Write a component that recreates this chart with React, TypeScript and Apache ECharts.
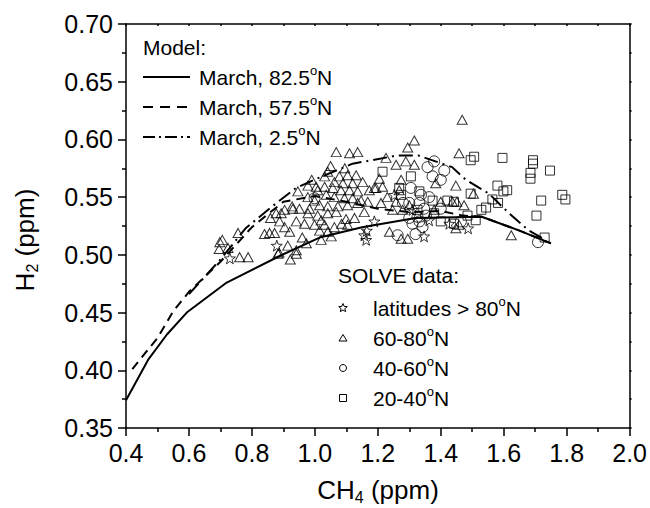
import React, { useEffect, useRef } from "react";
import * as echarts from "echarts";

const FONT = '"Liberation Sans", Arial, Helvetica, sans-serif';

// Model curves [CH4, H2]
const model82 = [
  [0.4, 0.374], [0.47, 0.409], [0.53, 0.431], [0.593, 0.45], [0.72, 0.476], [0.888, 0.499],
  [1.015, 0.515], [1.15, 0.524], [1.32, 0.532], [1.53, 0.533], [1.65, 0.521], [1.75, 0.51],
];
const model57 = [
  [0.42, 0.401], [0.5, 0.428], [0.55, 0.451], [0.6, 0.468], [0.7, 0.494], [0.8, 0.524],
  [0.9, 0.546], [1.0, 0.551], [1.1, 0.546], [1.2, 0.54], [1.3, 0.537], [1.4, 0.538],
  [1.47, 0.534], [1.53, 0.533], [1.65, 0.521], [1.75, 0.51],
];
const model2 = [
  [0.6, 0.466], [0.7, 0.496], [0.78, 0.523], [0.86, 0.541], [0.94, 0.558], [1.015, 0.567],
  [1.12, 0.579], [1.26, 0.586], [1.33, 0.586], [1.436, 0.576], [1.48, 0.565], [1.553, 0.553],
  [1.617, 0.536], [1.68, 0.521], [1.733, 0.513],
];

// SOLVE data
const lat80 = [
  [0.73, 0.497], [0.879, 0.508], [1.157, 0.517], [1.163, 0.513], [1.165, 0.521], [1.189, 0.529],
  [1.252, 0.552], [1.31, 0.539], [1.347, 0.516], [1.363, 0.53], [1.427, 0.527], [1.487, 0.523],
];
const lat60_80 = [
  [0.698, 0.511], [0.706, 0.513], [0.696, 0.505], [0.724, 0.506], [0.756, 0.519], [0.761, 0.498],
  [0.788, 0.498], [0.84, 0.518], [0.856, 0.519], [0.872, 0.519], [0.859, 0.532], [0.877, 0.536],
  [0.893, 0.536], [0.888, 0.529], [0.904, 0.524], [0.92, 0.52], [0.914, 0.508], [0.886, 0.502],
  [0.922, 0.496], [0.928, 0.542], [0.904, 0.539], [0.941, 0.529], [0.941, 0.504], [0.883, 0.501],
  [0.941, 0.501], [0.93, 0.54], [0.96, 0.515],
  [1.068, 0.589], [1.11, 0.588], [1.136, 0.589], [1.041, 0.572], [1.078, 0.568], [1.104, 0.569],
  [1.131, 0.569], [1.152, 0.563], [1.062, 0.563], [1.089, 0.562], [1.12, 0.562], [1.031, 0.559],
  [1.057, 0.558], [1.083, 0.556], [1.11, 0.556], [1.136, 0.555], [0.978, 0.56], [1.009, 0.556],
  [1.036, 0.552], [1.062, 0.55], [1.094, 0.549], [1.12, 0.549], [1.147, 0.547], [0.946, 0.555],
  [0.978, 0.55], [0.999, 0.547], [0.951, 0.54], [0.983, 0.54], [1.015, 0.543], [1.041, 0.542],
  [1.073, 0.542], [1.104, 0.543], [1.136, 0.545], [1.168, 0.546], [1.157, 0.537], [0.978, 0.536],
  [1.009, 0.534], [1.041, 0.536], [1.068, 0.537], [0.967, 0.527], [0.999, 0.526], [1.031, 0.526],
  [1.062, 0.524], [1.015, 0.521], [1.041, 0.52], [1.052, 0.516], [1.104, 0.526], [1.126, 0.532],
  [1.099, 0.531], [0.973, 0.51], [1.02, 0.513], [1.004, 0.559], [1.031, 0.568], [1.173, 0.556],
  [1.194, 0.558], [1.215, 0.559], [1.085, 0.527], [0.99, 0.565], [1.05, 0.577], [1.095, 0.575],
  [1.02, 0.53],
  [1.316, 0.599], [1.295, 0.593], [1.226, 0.584], [1.258, 0.578], [1.289, 0.581], [1.316, 0.578],
  [1.205, 0.566], [1.274, 0.565], [1.384, 0.562], [1.189, 0.558], [1.268, 0.556], [1.458, 0.588],
  [1.258, 0.546], [1.3, 0.543], [1.4, 0.546], [1.437, 0.546], [1.247, 0.539], [1.279, 0.539],
  [1.379, 0.539], [1.237, 0.52], [1.274, 0.514], [1.295, 0.514], [1.468, 0.617], [1.448, 0.56],
  [1.451, 0.546], [1.474, 0.543], [1.448, 0.523], [1.458, 0.526], [1.624, 0.517], [1.504, 0.553],
  [1.21, 0.545], [1.23, 0.55],
];
const lat40_60 = [
  [0.999, 0.549], [1.379, 0.581], [1.358, 0.576], [1.374, 0.568], [1.411, 0.573], [1.4, 0.565],
  [1.305, 0.558], [1.337, 0.552], [1.332, 0.545], [1.363, 0.55], [1.3, 0.545], [1.347, 0.54],
  [1.31, 0.527], [1.332, 0.529], [1.3, 0.532], [1.326, 0.533], [1.353, 0.534], [1.263, 0.517],
  [1.342, 0.524], [1.464, 0.529], [1.709, 0.511], [1.4, 0.54], [1.28, 0.545], [1.32, 0.518],
];
const lat20_40 = [
  [1.215, 0.572], [1.305, 0.568], [1.274, 0.552], [1.268, 0.558], [1.332, 0.555], [1.374, 0.547],
  [1.421, 0.547], [1.442, 0.546], [1.326, 0.539], [1.379, 0.536], [1.4, 0.529], [1.442, 0.527],
  [1.495, 0.582], [1.506, 0.585], [1.596, 0.584], [1.693, 0.582], [1.693, 0.579], [1.685, 0.571],
  [1.685, 0.566], [1.747, 0.573], [1.58, 0.56], [1.599, 0.555], [1.611, 0.556], [1.786, 0.552],
  [1.796, 0.548], [1.719, 0.547], [1.564, 0.548], [1.582, 0.545], [1.529, 0.539], [1.544, 0.541],
  [1.495, 0.553], [1.704, 0.534], [1.485, 0.534], [1.511, 0.53], [1.73, 0.515],
];

const modelLabels = ["March, 82.5", "March, 57.5", "March, 2.5"];
const solveLabels = ["latitudes > 80", "60-80", "40-60", "20-40"];

const STAR = "path://M0,-10 L2.35,-3.24 L9.51,-3.09 L3.8,1.24 L5.88,8.09 L0,4 L-5.88,8.09 L-3.8,1.24 L-9.51,-3.09 L-2.35,-3.24 Z";

function starPoints(cx: number, cy: number, R: number, r: number) {
  const pts: number[][] = [];
  for (let i = 0; i < 10; i++) {
    const ang = -Math.PI / 2 + (i * Math.PI) / 5;
    const rad = i % 2 === 0 ? R : r;
    pts.push([cx + rad * Math.cos(ang), cy + rad * Math.sin(ang)]);
  }
  return pts;
}

const richLegend = {
  a: { fontSize: 21, fontFamily: FONT, color: "#000", lineHeight: 26 },
  s: { fontSize: 13, fontFamily: FONT, color: "#000", lineHeight: 12, verticalAlign: "top" },
};

export default function App() {
  const ref = useRef<HTMLDivElement>(null);
  useEffect(() => {
    document.body.style.margin = "0";
    if (!ref.current) return;
    const chart = echarts.init(ref.current, null, { renderer: "svg" });
    const hollow = { color: "rgba(0,0,0,0)", borderColor: "#000", borderWidth: 1 };
    const lineDefs = [
      { data: model82, type: "solid" as any, name: modelLabels[0] },
      { data: model57, type: [9, 6], name: modelLabels[1] },
      { data: model2, type: [14, 5, 2, 5], name: modelLabels[2] },
    ];
    const legendDash: any[] = [null, [10, 7], [12, 4, 2, 4]];
    const graphics: any[] = [
      {
        type: "text", x: 143, y: 47,
        style: { text: "Model:", font: `21px ${FONT}`, fill: "#000", verticalAlign: "middle" },
      },
      {
        type: "text", x: 338, y: 275,
        style: { text: "SOLVE data:", font: `21px ${FONT}`, fill: "#000", verticalAlign: "middle" },
      },
      {
        type: "text", x: 378, y: 490,
        style: {
          text: "{a|CH}{b|4}{a| (ppm)}",
          rich: {
            a: { fontSize: 26, fontFamily: FONT, color: "#000", lineHeight: 30 },
            b: { fontSize: 16, fontFamily: FONT, color: "#000", lineHeight: 12, verticalAlign: "bottom" },
          },
          align: "center", verticalAlign: "middle",
        },
      },
      {
        type: "text", x: 25, y: 240, rotation: Math.PI / 2,
        style: {
          text: "{a|H}{b|2}{a| (ppm)}",
          rich: {
            a: { fontSize: 26, fontFamily: FONT, color: "#000", lineHeight: 30 },
            b: { fontSize: 16, fontFamily: FONT, color: "#000", lineHeight: 12, verticalAlign: "bottom" },
          },
          align: "center", verticalAlign: "middle",
        },
      },
    ];
    const modelRows = [77, 107, 137];
    modelRows.forEach((y, i) => {
      graphics.push({
        type: "line",
        shape: { x1: 143, y1: y, x2: 190, y2: y },
        style: { stroke: "#000", lineWidth: 2, lineDash: legendDash[i] },
      });
      graphics.push({
        type: "text", x: 199, y,
        style: { text: `{a|${modelLabels[i]}}{s|o}{a|N}`, rich: richLegend, verticalAlign: "middle" },
      });
    });
    const solveRows = [308, 338, 368, 398];
    const sx = 343;
    graphics.push({ type: "polygon", shape: { points: starPoints(sx, solveRows[0], 4.5, 2) }, style: { fill: "none", stroke: "#000", lineWidth: 1 } });
    graphics.push({ type: "polygon", shape: { points: [[sx, solveRows[1] - 3.5], [sx + 4, solveRows[1] + 3], [sx - 4, solveRows[1] + 3]] }, style: { fill: "none", stroke: "#000", lineWidth: 1 } });
    graphics.push({ type: "circle", shape: { cx: sx, cy: solveRows[2], r: 3.5 }, style: { fill: "none", stroke: "#000", lineWidth: 1 } });
    graphics.push({ type: "rect", shape: { x: sx - 3.5, y: solveRows[3] - 3.5, width: 7, height: 7 }, style: { fill: "none", stroke: "#000", lineWidth: 1 } });
    solveRows.forEach((y, i) => {
      graphics.push({
        type: "text", x: 373, y,
        style: { text: `{a|${solveLabels[i]}}{s|o}{a|N}`, rich: richLegend, verticalAlign: "middle" },
      });
    });

    const labelStyle = { fontSize: 25, fontFamily: FONT, color: "#000" };
    const option: any = {
      animation: false,
      backgroundColor: "#fff",
      grid: { left: 126, right: 19, top: 24, bottom: 80, containLabel: false },
      xAxis: [
        {
          type: "value", min: 0.4, max: 2.0, interval: 0.2, position: "bottom",
          axisLine: { show: true, onZero: false, lineStyle: { color: "#000", width: 1.5 } },
          axisTick: { show: true, inside: false, length: 8, lineStyle: { color: "#000", width: 1.5 } },
          minorTick: { show: true, splitNumber: 2, length: 4, lineStyle: { color: "#000", width: 1.5 } },
          splitLine: { show: false },
          axisLabel: { ...labelStyle, margin: 12, formatter: (v: number) => v.toFixed(1) },
        },
        {
          type: "value", min: 0.4, max: 2.0, interval: 0.1, position: "top",
          axisLine: { show: true, onZero: false, lineStyle: { color: "#000", width: 1.5 } },
          axisTick: { show: true, inside: true, length: 2, lineStyle: { color: "#000", width: 1.5 } },
          axisLabel: { show: false }, splitLine: { show: false },
        },
      ],
      yAxis: [
        {
          type: "value", min: 0.35, max: 0.7, interval: 0.05, position: "left",
          axisLine: { show: true, onZero: false, lineStyle: { color: "#000", width: 1.5 } },
          axisTick: { show: true, inside: false, length: 8, lineStyle: { color: "#000", width: 1.5 } },
          minorTick: { show: true, splitNumber: 2, length: 4, lineStyle: { color: "#000", width: 1.5 } },
          splitLine: { show: false },
          axisLabel: { ...labelStyle, margin: 13, formatter: (v: number) => v.toFixed(2) },
        },
        {
          type: "value", min: 0.35, max: 0.7, interval: 0.025, position: "right",
          axisLine: { show: true, onZero: false, lineStyle: { color: "#000", width: 1.5 } },
          axisTick: { show: true, inside: false, length: 2, lineStyle: { color: "#000", width: 1.5 } },
          axisLabel: { show: false }, splitLine: { show: false },
        },
      ],
      series: [
        ...lineDefs.map((d) => ({
          type: "line", name: d.name, data: d.data, showSymbol: false, symbol: "none",
          xAxisIndex: 0, yAxisIndex: 0, z: 2, silent: true,
          lineStyle: { color: "#000", width: 2, type: d.type },
        })),
        { type: "scatter", name: solveLabels[0], data: lat80, symbol: STAR, symbolSize: 11, itemStyle: hollow, z: 3 },
        { type: "scatter", name: solveLabels[1], data: lat60_80, symbol: "triangle", symbolSize: [10, 9], itemStyle: hollow, z: 3 },
        { type: "scatter", name: solveLabels[2], data: lat40_60, symbol: "circle", symbolSize: 11, itemStyle: hollow, z: 3 },
        { type: "scatter", name: solveLabels[3], data: lat20_40, symbol: "rect", symbolSize: 9, itemStyle: hollow, z: 3 },
      ],
      graphic: graphics,
    };
    chart.setOption(option);
    return () => chart.dispose();
  }, []);
  return <div ref={ref} style={{ width: 650, height: 508 }} />;
}
